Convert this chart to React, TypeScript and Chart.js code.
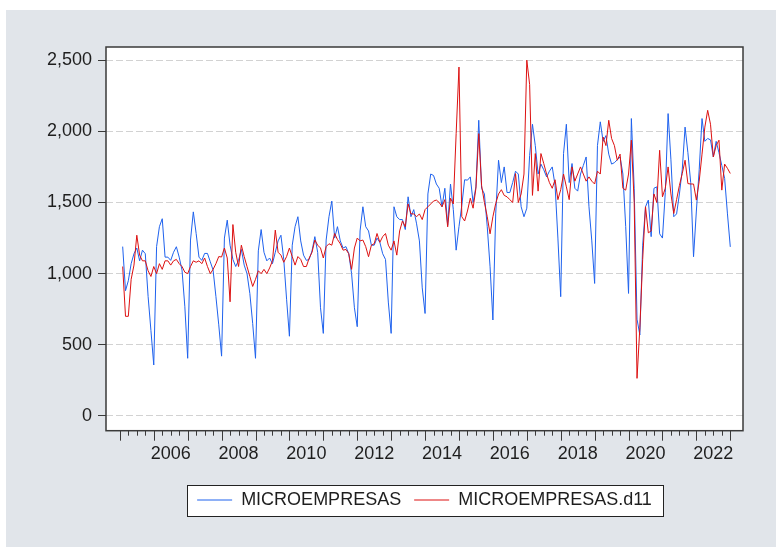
import React, { useEffect, useRef } from 'react';
import { Chart, registerables } from 'chart.js';

Chart.register(...registerables);

// ---------------- data ----------------
const SERIES_NAMES = ['MICROEMPRESAS', 'MICROEMPRESAS.d11'];
// x axis is measured in months since January 2005 (year ticks at multiples of 12)
const BASE_YEAR = 2005;
const FIRST_OBS_MONTH = 1; // first observation: 2005M02
const YEAR_LABELS = [2006, 2008, 2010, 2012, 2014, 2016, 2018, 2020, 2022];
const Y_TICKS = [0, 500, 1000, 1500, 2000, 2500];
const Y_MIN = -104;
const Y_MAX = 2593;
const X_MIN = -4.9;
const X_MAX = 220.5;

// monthly values, 2005M02 .. 2023M01
const MICRO = [
  1190, 880, 950, 1070, 1140, 1180, 1090, 1165, 1140, 840, 600,
  358, 1190, 1330, 1386, 1116, 1116, 1093, 1150, 1189, 1116, 1025, 767,
  405, 1236, 1434, 1282, 1116, 1093, 1142, 1142, 1083, 1025, 838, 640,
  420, 1250, 1376, 1200, 1100, 1050, 1093, 1170, 1060, 1000, 860, 650,
  405, 1160, 1310, 1150, 1090, 1110, 1070, 1150, 1230, 1270, 1100, 820,
  560, 1200, 1330, 1400, 1230, 1130, 1093, 1100, 1160, 1260, 1150, 760,
  580, 1236, 1400, 1510, 1250, 1330, 1230, 1180, 1190, 1140, 1000, 760,
  627, 1300, 1470, 1330, 1300, 1200, 1200, 1250, 1220, 1140, 1100, 800,
  580, 1470, 1400, 1380, 1380, 1310, 1540, 1400, 1450, 1350, 1230, 900,
  720, 1560, 1700, 1690, 1630, 1600, 1470, 1600, 1340, 1630, 1450, 1165,
  1330, 1480, 1660, 1657, 1680, 1500, 1610, 2078, 1600, 1560, 1330, 1048,
  674, 1420, 1797, 1640, 1750, 1570, 1570, 1640, 1720, 1700, 1470, 1400,
  1460, 1830, 2050, 1900, 1700, 1770, 1730, 1680, 1720, 1750, 1620, 1250,
  838, 1844, 2050, 1640, 1774, 1600, 1580, 1700, 1760, 1820, 1470, 1230,
  931, 1900, 2067, 1930, 1970, 1840, 1770, 1780, 1800, 1820, 1700, 1330,
  861, 2090, 1600, 680, 569, 1200, 1470, 1517, 1260, 1600, 1610, 1280,
  1250, 1570, 2125, 1800, 1400, 1420, 1560, 1730, 2030, 1850, 1640, 1119,
  1440, 1730, 2090, 1930, 1950, 1940, 1820, 1930, 1850, 1760, 1670, 1420,
  1188,
];

const MICRO_D11 = [
  1050, 700, 700, 960, 1060, 1270, 1130, 1090, 1090, 1020, 980,
  1050, 1000, 1070, 1030, 1090, 1090, 1060, 1090, 1100, 1070, 1050, 1010,
  1000, 1050, 1090, 1080, 1090, 1070, 1110, 1050, 1000, 1030, 1070, 1120,
  1117, 1180, 1110, 802, 1345, 1150, 1050, 1200, 1120, 1050, 980, 910,
  960, 1020, 1000, 1030, 1000, 1040, 1090, 1306, 1150, 1130, 1080, 1120,
  1180, 1120, 1060, 1120, 1100, 1050, 1050, 1110, 1150, 1236, 1200, 1180,
  1110, 1190, 1210, 1200, 1282, 1240, 1210, 1165, 1170, 1140, 1030, 1180,
  1250, 1230, 1236, 1190, 1119, 1200, 1210, 1282, 1220, 1260, 1282, 1200,
  1165, 1230, 1130, 1300, 1370, 1330, 1490, 1420, 1420, 1400, 1420, 1380,
  1450, 1470, 1490, 1510, 1517, 1500, 1470, 1520, 1329, 1530, 1490, 1984,
  2452, 1400, 1370, 1440, 1530, 1460, 1600, 1984, 1620, 1500, 1400, 1280,
  1400, 1493, 1560, 1590, 1550, 1540, 1520, 1500, 1703, 1500, 1560, 1700,
  2500, 2330, 1550, 1844, 1580, 1844, 1774, 1700, 1640, 1600, 1660, 1520,
  1590, 1700, 1610, 1520, 1750, 1650, 1700, 1750, 1700, 1650, 1680, 1650,
  1630, 1720, 1700, 1960, 1900, 2078, 1950, 1900, 1797, 1840, 1600, 1587,
  1700, 1938, 1500, 264, 620, 1100, 1470, 1287, 1300, 1560, 1500, 1867,
  1540, 1600, 1750, 1560, 1423, 1520, 1620, 1703, 1797, 1633, 1630, 1630,
  1517, 1650, 1840, 2030, 2148, 2050, 1820, 1900, 1938, 1587, 1770, 1740,
  1704,
];

// ---------------- styling ----------------
const FONT_FAMILY = "'Liberation Sans', Arial, Helvetica, sans-serif";
const BLUE = '#1f62ee';
const RED = '#dd1111';
const TEXT = '#1e1e1e';
const FRAME = '#3a3a3a';
const PAGE_BG = '#e1e5ea';

function legendFrame(chart: any) {
  const lg = chart.legend;
  if (!lg || !lg.legendHitBoxes || !lg.legendHitBoxes.length) return null;
  const hb = lg.legendHitBoxes;
  const first = hb[0];
  const last = hb[hb.length - 1];
  const left = Math.round(first.left - 10) + 0.5;
  const right = Math.round(last.left + last.width + 11) + 0.5;
  const top = Math.round(first.top - 6.5) + 0.5;
  const bottom = Math.round(first.top + first.height + 6.5) + 0.5;
  return { left, right, top, bottom };
}

const decorPlugin = {
  id: 'decor',
  beforeDraw(chart: any) {
    const { ctx, chartArea: a } = chart;
    ctx.save();
    ctx.fillStyle = '#ffffff';
    ctx.fillRect(0, 0, chart.width, chart.height);
    ctx.fillStyle = PAGE_BG;
    ctx.fillRect(6, 10, chart.width - 6, chart.height - 11);
    ctx.fillStyle = '#ffffff';
    ctx.fillRect(a.left, a.top, a.right - a.left, a.bottom - a.top);
    const f = legendFrame(chart);
    if (f) {
      ctx.fillRect(f.left, f.top, f.right - f.left, f.bottom - f.top);
    }
    ctx.restore();
  },
  afterDraw(chart: any) {
    const { ctx, chartArea: a } = chart;
    const xs = chart.scales.x;
    ctx.save();
    // x tick marks: quarterly minor, yearly major
    ctx.strokeStyle = FRAME;
    ctx.lineWidth = 1;
    ctx.beginPath();
    const lastMonth = FIRST_OBS_MONTH + MICRO.length - 1;
    for (let t = 0; t <= lastMonth; t += 3) {
      const px = Math.round(xs.getPixelForValue(t)) + 0.5;
      const len = t % 12 === 0 ? 10 : 5;
      ctx.moveTo(px, a.bottom);
      ctx.lineTo(px, a.bottom + len);
    }
    ctx.stroke();
    // plot frame
    ctx.lineWidth = 1.5;
    ctx.strokeStyle = FRAME;
    ctx.strokeRect(a.left, a.top, a.right - a.left, a.bottom - a.top);
    // legend frame
    const f = legendFrame(chart);
    if (f) {
      ctx.lineWidth = 1;
      ctx.strokeStyle = '#222';
      ctx.strokeRect(f.left, f.top, f.right - f.left, f.bottom - f.top);
    }
    ctx.restore();
  },
};

export default function App() {
  const canvasRef = useRef<HTMLCanvasElement | null>(null);

  useEffect(() => {
    const canvas = canvasRef.current;
    if (!canvas) return;
    const toPoints = (arr: number[]) => arr.map((v, i) => ({ x: FIRST_OBS_MONTH + i, y: v }));

    const chart = new Chart(canvas, {
      type: 'line',
      data: {
        datasets: [
          {
            label: SERIES_NAMES[0],
            data: toPoints(MICRO),
            borderColor: BLUE,
            backgroundColor: BLUE,
            borderWidth: 1,
            pointRadius: 0,
            tension: 0,
            order: 2,
          },
          {
            label: SERIES_NAMES[1],
            data: toPoints(MICRO_D11),
            borderColor: RED,
            backgroundColor: RED,
            borderWidth: 1,
            pointRadius: 0,
            tension: 0,
            order: 1,
          },
        ],
      },
      options: {
        animation: false,
        responsive: false,
        devicePixelRatio: 1,
        parsing: false,
        normalized: true,
        layout: { padding: { top: 47, right: 33, bottom: 29, left: 0 } },
        plugins: {
          tooltip: { enabled: false },
          legend: {
            display: true,
            position: 'bottom',
            fullSize: false,
            labels: {
              usePointStyle: true,
              pointStyle: 'line',
              pointStyleWidth: 35,
              padding: 13,
              color: TEXT,
              font: { size: 18, family: FONT_FAMILY },
              sort: (a: any, b: any) => a.datasetIndex - b.datasetIndex,
            },
          },
        },
        scales: {
          x: {
            type: 'linear',
            min: X_MIN,
            max: X_MAX,
            grid: { display: false, drawTicks: false },
            border: { display: false },
            afterBuildTicks: (scale: any) => {
              scale.ticks = YEAR_LABELS.map((y) => ({ value: (y - BASE_YEAR) * 12 + 6 }));
            },
            afterFit: (scale: any) => {
              scale.height = 47.3;
            },
            ticks: {
              autoSkip: false,
              maxRotation: 0,
              padding: 13,
              color: TEXT,
              font: { size: 18, family: FONT_FAMILY },
              callback: (value: any) => String(BASE_YEAR + (Number(value) - 6) / 12),
            },
          },
          y: {
            type: 'linear',
            min: Y_MIN,
            max: Y_MAX,
            afterBuildTicks: (scale: any) => {
              scale.ticks = Y_TICKS.map((v) => ({ value: v }));
            },
            afterFit: (scale: any) => {
              scale.width = 106;
            },
            grid: {
              display: true,
              color: '#d2d2d2',
              lineWidth: 1,
              drawTicks: true,
              tickLength: 8,
              tickColor: FRAME,
              tickWidth: 1,
            },
            border: { display: false, dash: [7, 3] },
            ticks: {
              padding: 6,
              color: TEXT,
              font: { size: 18, family: FONT_FAMILY },
              callback: (value: any) => Number(value).toLocaleString('en-US'),
            },
          },
        },
      },
      plugins: [decorPlugin],
    } as any);

    return () => chart.destroy();
  }, []);

  return (
    <div style={{ position: 'absolute', left: 0, top: 0, width: 776, height: 548 }}>
      <canvas ref={canvasRef} width={776} height={548} style={{ width: 776, height: 548, display: 'block' }} />
    </div>
  );
}
